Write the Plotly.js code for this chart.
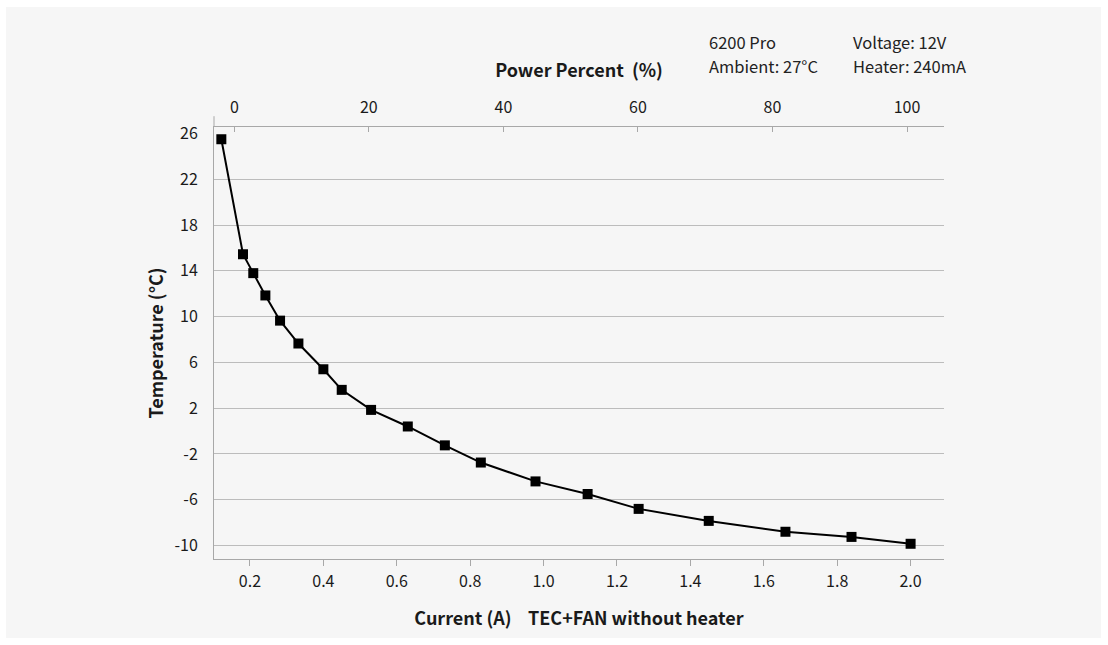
<!DOCTYPE html>
<html>
<head>
<meta charset="utf-8">
<script src="https://cdn.plot.ly/plotly-3.0.1.min.js"></script>
<style>
  html, body { margin: 0; padding: 0; background: #ffffff; }
  #chart { position: absolute; left: 6px; top: 7px; width: 1095px; height: 631px; }
</style>
</head>
<body>
<div id="chart"></div>
<script>
// Current (A) through TEC+FAN and resulting temperature (°C)
const currentA = [0.122, 0.181, 0.209, 0.242, 0.282, 0.332, 0.400, 0.450, 0.530, 0.630,
                  0.731, 0.829, 0.978, 1.120, 1.259, 1.450, 1.659, 1.839, 2.000];
const temperatureC = [25.5, 15.45, 13.8, 11.85, 9.65, 7.65, 5.4, 3.6, 1.85, 0.4,
                      -1.25, -2.75, -4.4, -5.5, -6.8, -7.85, -8.8, -9.25, -9.85];

const currentTicks = [0.2, 0.4, 0.6, 0.8, 1.0, 1.2, 1.4, 1.6, 1.8, 2.0];
const currentTickLabels = ['0.2', '0.4', '0.6', '0.8', '1.0', '1.2', '1.4', '1.6', '1.8', '2.0'];
const tempTicks = [-10, -6, -2, 2, 6, 10, 14, 18, 22, 26];
const tempTickLabels = ['-10', '-6', '-2', '2', '6', '10', '14', '18', '22', '26'];
const tempGridTicks = [-10, -6, -2, 2, 6, 10, 14, 18, 22];
const percentTicks = [0, 20, 40, 60, 80, 100];
const percentTickLabels = ['0', '20', '40', '60', '80', '100'];

const infoLeft = ['6200 Pro', 'Ambient: 27°C'];
const infoRight = ['Voltage: 12V', 'Heater: 240mA'];

const FONT = '"Noto Sans CJK SC", "Noto Sans", sans-serif';
const AXIS_COLOR = '#a8a8a8';
const GRID_COLOR = '#bcbcbc';
const TEXT_COLOR = '#1a1a1a';

const trace = {
  x: currentA,
  y: temperatureC,
  type: 'scatter',
  mode: 'lines+markers',
  line: { color: '#000000', width: 2 },
  marker: { symbol: 'square', size: 10, color: '#000000' },
  hoverinfo: 'x+y',
  showlegend: false
};

// empty trace that only attaches the top "Power Percent" axis
const percentAxisTrace = {
  x: [],
  y: [],
  xaxis: 'x2',
  yaxis: 'y',
  type: 'scatter',
  mode: 'markers',
  hoverinfo: 'skip',
  showlegend: false
};

const infoFont = { family: FONT, size: 16.5, color: '#222222' };

const layout = {
  width: 1095,
  height: 631,
  paper_bgcolor: '#f6f6f6',
  plot_bgcolor: '#f6f6f6',
  margin: { l: 208, r: 157, t: 120, b: 79, pad: 0 },
  font: { family: FONT, size: 16, color: TEXT_COLOR },
  showlegend: false,
  xaxis: {
    range: [0.102, 2.091],
    tickvals: currentTicks,
    ticktext: currentTickLabels,
    ticks: 'outside',
    ticklen: 6,
    tickcolor: AXIS_COLOR,
    tickwidth: 1,
    showline: true,
    linecolor: AXIS_COLOR,
    linewidth: 1,
    showgrid: false,
    zeroline: false,
    ticklabelstandoff: 2,
    tickfont: { family: FONT, size: 16, color: TEXT_COLOR },
    title: {
      text: '<b>Current (A)\u00a0\u00a0\u00a0\u00a0TEC+FAN without heater</b>',
      font: { family: FONT, size: 18, color: TEXT_COLOR },
      standoff: 21
    },
    automargin: false
  },
  xaxis2: {
    overlaying: 'x',
    side: 'top',
    anchor: 'y',
    range: [-3.02, 105.5],
    tickvals: percentTicks,
    ticktext: percentTickLabels,
    ticks: 'inside',
    ticklen: 5,
    tickcolor: AXIS_COLOR,
    showline: true,
    linecolor: AXIS_COLOR,
    linewidth: 1,
    showgrid: false,
    zeroline: false,
    ticklabelstandoff: 7,
    tickfont: { family: FONT, size: 16, color: TEXT_COLOR },
    title: {
      text: '<b>Power Percent\u00a0\u00a0(%)</b>',
      font: { family: FONT, size: 18, color: TEXT_COLOR },
      standoff: 11
    },
    automargin: false
  },
  yaxis: {
    range: [-11.18, 26.57],
    tickvals: tempTicks,
    ticktext: tempTickLabels,
    ticks: '',
    showline: true,
    linecolor: AXIS_COLOR,
    linewidth: 1,
    showgrid: false,
    zeroline: false,
    ticklabelstandoff: 12,
    tickfont: { family: FONT, size: 16, color: TEXT_COLOR },
    minor: {
      tickvals: tempGridTicks,
      showgrid: true,
      gridcolor: GRID_COLOR,
      gridwidth: 1,
      ticks: ''
    },
    title: {
      text: '<b>Temperature (°C)</b>',
      font: { family: FONT, size: 18, color: TEXT_COLOR },
      standoff: 6
    },
    automargin: false
  },
  shapes: [
    { type: 'line', xref: 'paper', yref: 'paper', x0: 0, x1: 0, y0: 1, y1: 1.025,
      line: { color: AXIS_COLOR, width: 1 } }
  ],
  annotations: [
    { xref: 'paper', yref: 'paper', x: 0.676, y: 1.1968, xanchor: 'left', yanchor: 'middle',
      text: infoLeft[0], showarrow: false, font: infoFont },
    { xref: 'paper', yref: 'paper', x: 0.676, y: 1.1412, xanchor: 'left', yanchor: 'middle',
      text: infoLeft[1], showarrow: false, font: infoFont },
    { xref: 'paper', yref: 'paper', x: 0.872, y: 1.1968, xanchor: 'left', yanchor: 'middle',
      text: infoRight[0], showarrow: false, font: infoFont },
    { xref: 'paper', yref: 'paper', x: 0.872, y: 1.1412, xanchor: 'left', yanchor: 'middle',
      text: infoRight[1], showarrow: false, font: infoFont }
  ]
};

Plotly.newPlot('chart', [trace, percentAxisTrace], layout, { displayModeBar: false, staticPlot: true });
</script>
</body>
</html>
